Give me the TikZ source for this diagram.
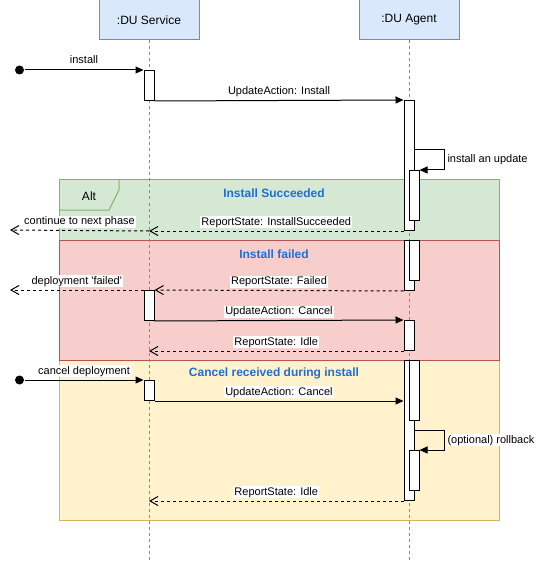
\documentclass[tikz,border=0pt]{standalone}
\usepackage{fontspec}
\setmainfont{Liberation Sans}
\usetikzlibrary{arrows.meta}
\definecolor{headfill}{HTML}{DAE8FC}
\definecolor{headline}{HTML}{6C8EBF}
\definecolor{okfill}{HTML}{D5E8D4}
\definecolor{okline}{HTML}{82B366}
\definecolor{failfill}{HTML}{F8CECC}
\definecolor{failline}{HTML}{B85450}
\definecolor{cancelfill}{HTML}{FFF2CC}
\definecolor{cancelline}{HTML}{D6B656}
\definecolor{titleblue}{HTML}{1F6FD1}

\begin{document}
\begin{tikzpicture}[x=1pt, y=-1pt, line width=1pt,
		head/.style={draw=headline, fill=headfill, minimum width=100pt, minimum height=40pt, inner sep=0pt, font=\fontsize{12}{14}\selectfont},
		life/.style={headline, dash pattern=on 3pt off 3pt},
		act/.style={draw, fill=white, minimum width=10pt, inner sep=0pt, anchor=north},
		msg/.style={-{Triangle[length=8pt, width=7pt]}},
		ret/.style={dash pattern=on 3pt off 3pt, -{Straight Barb[length=8pt, width=9pt]}},
		lbl/.style={fill=white, inner sep=1pt, text height=8pt, text depth=2pt, font=\fontsize{11}{13}\selectfont},
		over/.style={lbl, midway, yshift=9pt},
		title/.style={text=titleblue, font=\bfseries\fontsize{12}{14}\selectfont},
		dot/.style={circle, fill, minimum size=9pt, inner sep=0pt}]
		\useasboundingbox (0,0) rectangle (536,561);

		\draw[okline, fill=okfill] (59,180) rectangle (499,240);
		\draw[cancelline, fill=cancelfill] (59,360) rectangle (499,520);
		\draw[failline, fill=failfill] (59,240) rectangle (499,360);
		\draw[okline] (59,210) -- (109,210) -- (119,190) -- (119,180);
		\node[font=\fontsize{12}{14}\selectfont] (alt) at (89,196) {Alt};
		\node[title] (okt) at (274,193) {Install Succeeded};
		\node[title] (failt) at (274,254) {Install failed};
		\node[title] (cancelt) at (274,373) {Cancel received during install};

		\node[head] (svc) at (149,20) {:DU Service};
		\node[head] (agt) at (409,20) {:DU Agent};
		\coordinate (svcend) at (149,560);
		\coordinate (agtend) at (409,560);
		\draw[life] (svc) -- (svcend);
		\draw[life] (agt) -- (agtend);

		\node[act, minimum height=30pt] (sa1) at (149,70) {};
		\node[act, minimum height=130pt] (aa1) at (409,100) {};
		\node[act, minimum height=50pt] (aa2) at (414,170) {};
		\node[dot] (in1) at (19.5,70) {};
		\draw[msg] (in1) -- (sa1.north west) node[over] {install};
		\draw[msg] (sa1.south east) -- (aa1.north west) node[over] {UpdateAction: Install};
		\coordinate (up1) at (444,150);
		\coordinate (up2) at (444,170);
		\draw[msg] (aa1.east |- up1) -- (up1) -- node[lbl, right=2pt] {install an update} (up2) -- (aa2.north east);
		\coordinate (out1) at (10,230);
		\draw[ret] (aa1.south west) -- (aa1.south west -| svc) node[over] {ReportState: InstallSucceeded};
		\draw[ret] (aa1.south west -| svc) -- (out1) node[over] {continue to next phase};

		\node[act, minimum height=50pt] (aa3) at (409,240) {};
		\node[act, minimum height=40pt] (aa3b) at (414,240) {};
		\node[act, minimum height=30pt] (sa2) at (149,290) {};
		\node[act, minimum height=30pt] (aa4) at (409,320) {};
		\coordinate (out2) at (10,290);
		\draw[ret] (aa3.south west) -- (sa2.north east) node[over] {ReportState: Failed};
		\draw[ret] (sa2.north west) -- (out2) node[over] {deployment \textquotesingle failed\textquotesingle};
		\draw[msg] (sa2.south east) -- (aa4.north west) node[over] {UpdateAction: Cancel};
		\draw[ret] (aa4.south west) -- (aa4.south west -| svc) node[over] {ReportState: Idle};

		\node[act, minimum height=140pt] (aa5) at (409,360) {};
		\node[act, minimum height=60pt] (aa5b) at (414,360) {};
		\node[act, minimum height=40pt] (aa6) at (414,450) {};
		\node[act, minimum height=20pt] (sa3) at (149,380) {};
		\node[dot] (in2) at (19.5,380) {};
		\draw[msg] (in2) -- (sa3.north west) node[over] {cancel deployment};
		\draw[msg] (sa3.south east) -- (sa3.south east -| aa5.west) node[over] {UpdateAction: Cancel};
		\coordinate (rb1) at (444,430);
		\coordinate (rb2) at (444,450);
		\draw[msg] (aa5.east |- rb1) -- (rb1) -- node[lbl, right=2pt] {(optional) rollback} (rb2) -- (aa6.north east);
		\draw[ret] (aa5.south west) -- (aa5.south west -| svc) node[over] {ReportState: Idle};
\end{tikzpicture}
\end{document}
